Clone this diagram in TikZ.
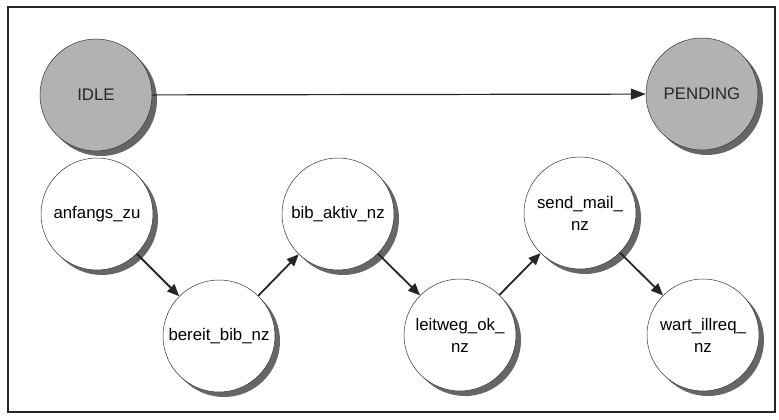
\documentclass[tikz,border=0pt]{standalone}
\usepackage{fontspec}
\setmainfont{Liberation Sans}
\usepackage{tikz}
\usetikzlibrary{positioning,arrows.meta,shadows}

\begin{document}
\begin{tikzpicture}[
  x=1pt, y=-1pt,
  font=\fontsize{16.8}{22}\selectfont,
  plainstate/.style={circle, draw=black!80, line width=0.5pt, fill=white,
                     minimum size=112pt, inner sep=0pt, align=center,
                     drop shadow={shadow xshift=5pt, shadow yshift=-5pt, fill=black!60, opacity=1}},
  greystate/.style={plainstate, fill=black!30, text=black!85},
  trans/.style={-{Triangle[length=12pt,width=10pt]}, line width=1.8pt, draw=black!85},
  longtrans/.style={-{Triangle[length=15pt,width=11pt]}, line width=1.2pt, draw=black!85}
]
\useasboundingbox (0,0) rectangle (779,420);
\draw[line width=1.3pt, black!85] (8,7) rectangle (775,412);

% Start and end
\node[greystate] (idle)    at (96,95)  {IDLE};
\node[greystate] (pending) at (702,94) {PENDING};

% Chain of states
\node[plainstate] (anfangs)  at (97,214)  {anfangs\_zu};
\node[plainstate] (bereit)   at (219,336) {bereit\_bib\_nz};
\node[plainstate] (aktiv)    at (338,214) {bib\_aktiv\_nz};
\node[plainstate] (leitweg)  at (460,335) {leitweg\_ok\_\\nz};
\node[plainstate] (sendmail) at (580,213) {send\_mail\_\\nz};
\node[plainstate] (wart)     at (703,335) {wart\_illreq\_\\nz};

% Transitions
\draw[longtrans] (idle) -- (pending);
\draw[trans] (anfangs) -- (bereit);
\draw[trans] (bereit) -- (aktiv);
\draw[trans] (aktiv) -- (leitweg);
\draw[trans] (leitweg) -- (sendmail);
\draw[trans] (sendmail) -- (wart);

\end{tikzpicture}
\end{document}
